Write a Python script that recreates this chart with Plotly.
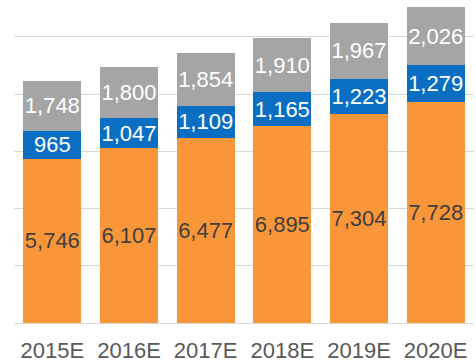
import plotly.graph_objects as go

years = ["2015E", "2016E", "2017E", "2018E", "2019E", "2020E"]
orange_vals = [5746, 6107, 6477, 6895, 7304, 7728]
blue_vals = [965, 1047, 1109, 1165, 1223, 1279]
gray_vals = [1748, 1800, 1854, 1910, 1967, 2026]

FONT = "Liberation Sans, Arial, sans-serif"

def layer(vals, color, text_color):
    return go.Bar(
        x=years,
        y=vals,
        marker=dict(color=color, line=dict(width=0)),
        text=[f"{v:,}" for v in vals],
        textposition="inside",
        insidetextanchor="middle",
        textangle=0,
        constraintext="none",
        textfont=dict(family=FONT, size=22, color=text_color),
        hoverinfo="skip",
    )

fig = go.Figure([
    layer(orange_vals, "#F9963A", "#404040"),
    layer(blue_vals, "#0A6FC2", "#FFFFFF"),
    layer(gray_vals, "#A5A5A5", "#FFFFFF"),
])

fig.update_layout(
    barmode="stack",
    bargap=0.24,
    width=476,
    height=363,
    margin=dict(l=14, r=2, t=0, b=40),
    paper_bgcolor="white",
    plot_bgcolor="white",
    showlegend=False,
    xaxis=dict(
        showgrid=False,
        showline=False,
        ticks="",
        ticklabelstandoff=12,
        tickfont=dict(family=FONT, size=22, color="#595959"),
    ),
    yaxis=dict(
        range=[0, 11290],
        dtick=2000,
        showticklabels=False,
        showgrid=True,
        gridcolor="#D9D9D9",
        gridwidth=1,
        zeroline=True,
        zerolinecolor="#D9D9D9",
        zerolinewidth=1,
        ticks="",
    ),
)

fig.write_html("out.html")
